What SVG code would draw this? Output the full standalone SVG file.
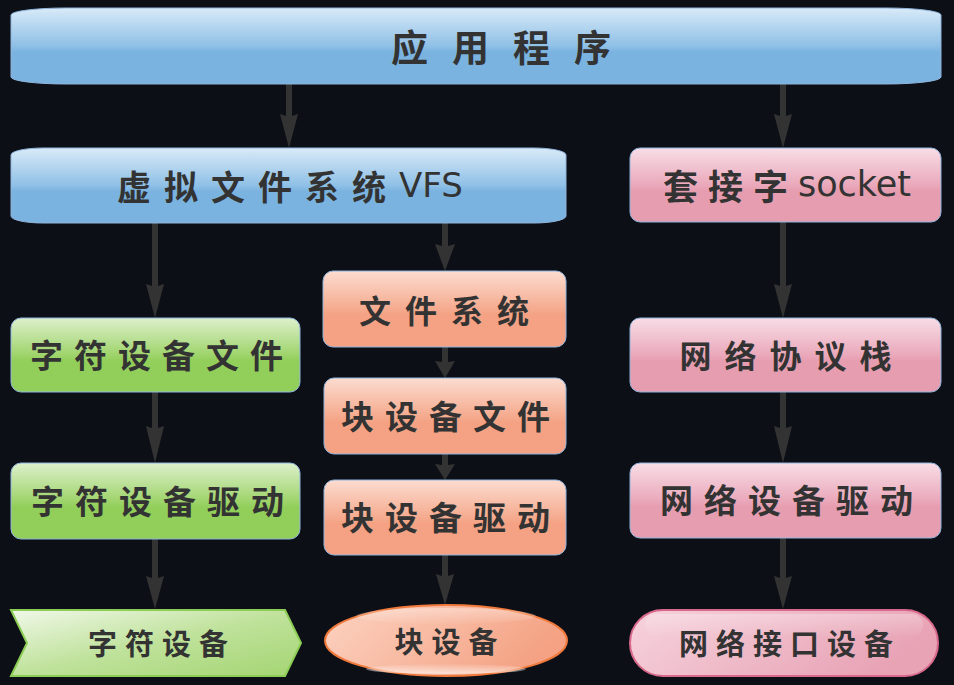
<svg xmlns="http://www.w3.org/2000/svg" width="954" height="685" viewBox="0 0 954 685">
<defs>
<linearGradient id="gBlue" x1="0" y1="0" x2="0" y2="1">
<stop offset="0" stop-color="#d8eaf8"/><stop offset="0.5" stop-color="#8fc0e6"/><stop offset="0.58" stop-color="#7ab3e0"/><stop offset="1" stop-color="#7ab3e0"/>
</linearGradient>
<linearGradient id="gGreen" x1="0" y1="0" x2="0" y2="1">
<stop offset="0" stop-color="#ddf0cb"/><stop offset="0.5" stop-color="#9fd46c"/><stop offset="0.58" stop-color="#92cf5a"/><stop offset="1" stop-color="#92cf5a"/>
</linearGradient>
<linearGradient id="gSalmon" x1="0" y1="0" x2="0" y2="1">
<stop offset="0" stop-color="#fcdcd0"/><stop offset="0.5" stop-color="#f5ab8f"/><stop offset="0.58" stop-color="#f4a283"/><stop offset="1" stop-color="#f4a283"/>
</linearGradient>
<linearGradient id="gPink" x1="0" y1="0" x2="0" y2="1">
<stop offset="0" stop-color="#f8dde6"/><stop offset="0.5" stop-color="#eaa9bb"/><stop offset="0.58" stop-color="#e79db0"/><stop offset="1" stop-color="#e79db0"/>
</linearGradient>
<linearGradient id="gChev" x1="0" y1="0" x2="1" y2="1">
<stop offset="0" stop-color="#f0f8e8"/><stop offset="0.5" stop-color="#bfe29b"/><stop offset="1" stop-color="#a4d572"/>
</linearGradient>
<linearGradient id="gEll" x1="0" y1="0" x2="1" y2="0.3">
<stop offset="0" stop-color="#fcd3c2"/><stop offset="1" stop-color="#f4a283"/>
</linearGradient>
<linearGradient id="gPill" x1="0" y1="0" x2="1" y2="0.3">
<stop offset="0" stop-color="#f6d3dd"/><stop offset="1" stop-color="#e8a3b5"/>
</linearGradient>
<linearGradient id="gHi" x1="0" y1="0" x2="0" y2="1">
<stop offset="0" stop-color="#ffffff" stop-opacity="0.6"/><stop offset="1" stop-color="#ffffff" stop-opacity="0.05"/>
</linearGradient>
<linearGradient id="gHiB" x1="0" y1="0" x2="0" y2="1">
<stop offset="0" stop-color="#ffffff" stop-opacity="0.05"/><stop offset="1" stop-color="#ffffff" stop-opacity="0.8"/>
</linearGradient>
</defs>
<style>
.t{font-family:"Noto Sans CJK SC","Noto Sans",sans-serif;font-weight:700;fill:#333333;text-anchor:middle;dominant-baseline:central}
.l{font-family:"DejaVu Sans","Noto Sans",sans-serif;font-weight:400}
.box{stroke:#8fb4dc;stroke-width:1}
.arr{fill:#333333}
</style>
<rect width="954" height="685" fill="#0d0f16"/>

<g id="connectors">
<polygon class="arr" points="286,84 292,84 292,116 298,114 289,148 280,114 286,116"/>
<polygon class="arr" points="780,84 786,84 786,116 792,114 783,148 774,114 780,116"/>
<polygon class="arr" points="152,223 158,223 158,286 164,284 155,318 146,284 152,286"/>
<polygon class="arr" points="442,223 448,223 448,246 455,244 445,271 435,244 442,246"/>
<polygon class="arr" points="442,347 448,347 448,362 455,361 445,378 435,361 442,362"/>
<polygon class="arr" points="442,454 448,454 448,465 455,464 445,480 435,464 442,465"/>
<polygon class="arr" points="442,555 448,555 448,576 454,574 445,605 436,574 442,576"/>
<polygon class="arr" points="152,392 158,392 158,428 164,426 155,463 146,426 152,428"/>
<polygon class="arr" points="152,539 158,539 158,578 164,576 155,609 146,576 152,578"/>
<polygon class="arr" points="780,222 786,222 786,286 792,284 783,318 774,284 780,286"/>
<polygon class="arr" points="780,392 786,392 786,428 792,426 783,463 774,426 780,428"/>
<polygon class="arr" points="780,538 786,538 786,578 792,576 783,609 774,576 780,578"/>
</g>

<g id="app">
<rect class="box" x="11" y="8" width="930" height="76" rx="55" ry="7" fill="url(#gBlue)"/>
<text class="t" x="513" y="46" font-size="37" letter-spacing="24">应用程序</text>
</g>
<g id="vfs">
<rect class="box" x="11" y="148" width="555" height="75" rx="32" ry="7" fill="url(#gBlue)"/>
<text class="t" x="290" y="185" font-size="34" letter-spacing="13">虚拟文件系统<tspan class="l" letter-spacing="0">VFS</tspan></text>
</g>
<g id="socket">
<rect class="box" x="630" y="148" width="311" height="74" rx="10" fill="url(#gPink)"/>
<text class="t" x="787" y="184" font-size="35" letter-spacing="10">套接字<tspan class="l" letter-spacing="0">socket</tspan></text>
</g>
<g id="fs">
<rect class="box" x="323" y="271" width="243" height="76" rx="10" fill="url(#gSalmon)"/>
<text class="t" x="451" y="309" font-size="32" letter-spacing="14">文件系统</text>
</g>
<g id="chrfile">
<rect class="box" x="11" y="318" width="289" height="74" rx="10" fill="url(#gGreen)"/>
<text class="t" x="162" y="354" font-size="33" letter-spacing="11">字符设备文件</text>
</g>
<g id="netstack">
<rect class="box" x="630" y="318" width="311" height="74" rx="10" fill="url(#gPink)"/>
<text class="t" x="792" y="354" font-size="32" letter-spacing="13">网络协议栈</text>
</g>
<g id="blkfile">
<rect class="box" x="324" y="378" width="242" height="76" rx="10" fill="url(#gSalmon)"/>
<text class="t" x="451" y="415" font-size="33" letter-spacing="11">块设备文件</text>
</g>
<g id="chrdrv">
<rect class="box" x="11" y="463" width="289" height="76" rx="10" fill="url(#gGreen)"/>
<text class="t" x="163" y="500" font-size="33" letter-spacing="11">字符设备驱动</text>
</g>
<g id="blkdrv">
<rect class="box" x="324" y="480" width="242" height="75" rx="10" fill="url(#gSalmon)"/>
<text class="t" x="451" y="516" font-size="33" letter-spacing="11">块设备驱动</text>
</g>
<g id="netdrv">
<rect class="box" x="630" y="463" width="311" height="75" rx="10" fill="url(#gPink)"/>
<text class="t" x="792" y="499" font-size="33" letter-spacing="11">网络设备驱动</text>
</g>

<g id="chrdev">
<polygon points="11,610 285,610 301,643 285,676 11,676 27,643" fill="url(#gChev)" stroke="#8cce55" stroke-width="2"/>
<text class="t" x="162" y="642" font-size="29" letter-spacing="8">字符设备</text>
</g>
<g id="blkdev">
<ellipse cx="446" cy="640.5" rx="121" ry="35.5" fill="url(#gEll)" stroke="#f07a3c" stroke-width="2"/>
<ellipse cx="446" cy="616" rx="90" ry="8" fill="url(#gHi)" opacity="0.6"/>
<ellipse cx="446" cy="669" rx="80" ry="5" fill="url(#gHiB)" opacity="0.8"/>
<text class="t" x="450" y="640" font-size="29" letter-spacing="8">块设备</text>
</g>
<g id="netdev">
<rect x="630" y="610" width="308" height="66" rx="33" fill="url(#gPill)" stroke="#d9698c" stroke-width="2"/>
<rect x="645" y="614" width="278" height="22" rx="11" fill="url(#gHi)" opacity="0.45"/>
<text class="t" x="790" y="642" font-size="29" letter-spacing="8">网络接口设备</text>
</g>
</svg>
